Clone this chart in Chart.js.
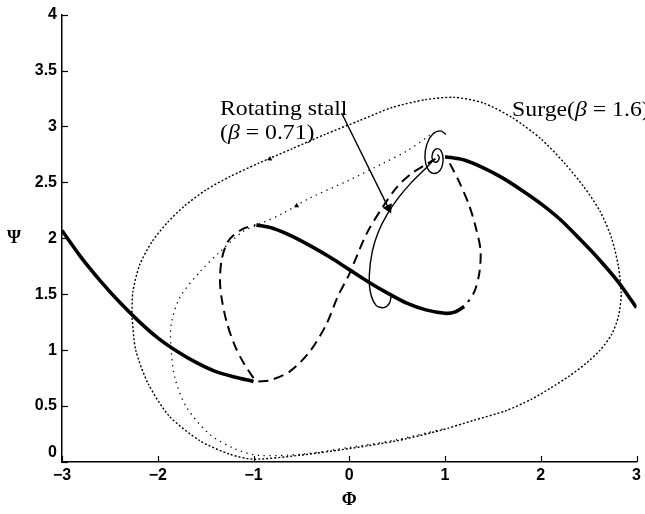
<!DOCTYPE html>
<html><head><meta charset="utf-8">
<script src="https://cdn.jsdelivr.net/npm/chart.js@4/dist/chart.umd.min.js"></script>
<style>html,body{margin:0;padding:0;background:#fff}canvas{display:block}</style>
</head><body>
<canvas id="c" width="645" height="514"></canvas>
<script>
// ---- tick values ----
const xTicks = [-3, -2, -1, 0, 1, 2, 3];
const yTicks = [0, 0.5, 1, 1.5, 2, 2.5, 3, 3.5, 4];

// ---- compressor characteristic: stable branches (thick) ----
const stableLeft = [[-3,2.07],[-2.8,1.83],[-2.6,1.62],[-2.4,1.43],[-2.2,1.26],[-2.0,1.11],[-1.8,0.99],[-1.6,0.89],[-1.4,0.81],[-1.2,0.76],[-1.0,0.72]];
const stableMid = [[-0.97,2.12],[-0.8,2.09],[-0.6,2.02],[-0.4,1.93],[-0.2,1.83],[0,1.72],[0.2,1.61],[0.4,1.51],[0.6,1.42],[0.8,1.36],[1.0,1.33],[1.1,1.34],[1.2,1.39]];
const stableRight = [[1.0,2.73],[1.2,2.70],[1.4,2.63],[1.6,2.54],[1.8,2.43],[2.0,2.31],[2.2,2.17],[2.4,2.0],[2.6,1.82],[2.8,1.62],[3.0,1.38]];

// ---- unstable branches (dashed) ----
const unstableLoop = [[-1.0,0.75],[-1.1,0.88],[-1.2,1.05],[-1.28,1.25],[-1.33,1.45],[-1.35,1.62],[-1.33,1.82],[-1.26,1.98],[-1.12,2.08],[-0.98,2.12]];
const unstableS = [[-0.95,0.72],[-0.83,0.73],[-0.62,0.81],[-0.41,0.99],[-0.24,1.23],[-0.12,1.48],[0.0,1.68],[0.18,2.04],[0.35,2.28],[0.5,2.46],[0.65,2.58],[0.8,2.66],[0.9,2.71]];
const unstableRight = [[1.05,2.67],[1.15,2.5],[1.25,2.3],[1.32,2.1],[1.37,1.9],[1.36,1.7],[1.31,1.53],[1.24,1.43]];

// ---- rotating stall trajectory (beta = 0.71) ----
const stallSolid = [[0.44,1.50],[0.42,1.42],[0.36,1.38],[0.28,1.40],[0.22,1.52],[0.21,1.68],[0.24,1.88],[0.3,2.05],[0.4,2.22],[0.52,2.37],[0.65,2.5],[0.78,2.61],[0.88,2.7]];
const stallSpiral = [[1.01,2.93],[0.95,2.96],[0.87,2.93],[0.81,2.84],[0.79,2.72],[0.82,2.62],[0.88,2.58],[0.95,2.61],[0.98,2.70],[0.96,2.78],[0.91,2.80],[0.87,2.76],[0.87,2.70],[0.91,2.68],[0.94,2.72],[0.92,2.75]];
const stallDotted = [[0.84,2.92],[0.6,2.78],[0.35,2.67],[0.0,2.52],[-0.41,2.36],[-0.7,2.22],[-0.93,2.13],[-1.11,2.06],[-1.35,1.88],[-1.56,1.70],[-1.77,1.47],[-1.86,1.23],[-1.86,1.0],[-1.82,0.75],[-1.70,0.49],[-1.46,0.25],[-1.2,0.12],[-0.95,0.06],[-0.5,0.07],[0.0,0.13],[0.5,0.2],[1.0,0.3]];

// ---- surge cycle (beta = 1.6) ----
const surge = [[-2.27,1.30],[-2.26,1.52],[-2.19,1.76],[-2.06,1.97],[-1.9,2.14],[-1.72,2.29],[-1.5,2.43],[-1.25,2.55],[-0.95,2.67],[-0.6,2.80],[-0.25,2.93],[0.1,3.05],[0.45,3.17],[0.8,3.24],[1.1,3.26],[1.4,3.21],[1.7,3.08],[2.0,2.89],[2.25,2.67],[2.45,2.46],[2.62,2.24],[2.74,2.0],[2.81,1.75],[2.84,1.50],[2.81,1.30],[2.74,1.14],[2.62,1.00],[2.47,0.88],[2.30,0.77],[2.1,0.66],[1.9,0.56],[1.64,0.46],[1.29,0.37],[0.94,0.28],[0.5,0.19],[0.0,0.12],[-0.52,0.06],[-1.0,0.025],[-1.25,0.07],[-1.56,0.19],[-1.88,0.41],[-2.1,0.70],[-2.23,1.0],[-2.27,1.30]];

// ---- arrows ----
const arrowPoints = [[-0.83,2.71],[-0.55,2.29]];
const arrowAngles = [246, 240];
const pointerLine = [[-0.08,3.12],[0.41,2.27]];

// ---- labels ----
const axisTitleX = 'Φ';
const axisTitleY = 'Ψ';
const stallLabel1 = 'Rotating stall';
const stallLabel2 = ['(', 'β', ' = 0.71)'];
const surgeLabel = ['Surge(', 'β', ' = 1.6)'];

const P = a => a.map(p => ({x: p[0], y: p[1]}));
const line = (data, w, dash, extra) => Object.assign({
  data: P(data), showLine: true, fill: false, borderColor: '#000', backgroundColor: '#000',
  borderWidth: w, borderDash: dash, pointRadius: 0, pointHoverRadius: 0, tension: 0.3
}, extra || {});

const fmt = v => (v === 0 ? ['0', ''] : (v < 0 ? '\u2212' + Math.abs(v) : String(v)));
const fmtX = v => (v < 0 ? '\u2212' + Math.abs(v) : String(v));

const serif = '"Liberation Serif", "Times New Roman", serif';
const textPlugin = {
  id: 'texts',
  afterDraw(chart) {
    const {ctx, scales: {x, y}, chartArea: a} = chart;
    ctx.save();
    ctx.fillStyle = '#000';
    // inward tick marks
    ctx.strokeStyle = '#000'; ctx.lineWidth = 1.2;
    xTicks.forEach(v => { const px = Math.round(x.getPixelForValue(v)) + 0.5; ctx.beginPath(); ctx.moveTo(px, a.bottom); ctx.lineTo(px, a.bottom - 6); ctx.stroke(); });
    yTicks.forEach(v => { const py = Math.round(y.getPixelForValue(v)) + 0.5; ctx.beginPath(); ctx.moveTo(a.left, py); ctx.lineTo(a.left + 6, py); ctx.stroke(); });
    // axis titles
    ctx.textAlign = 'center'; ctx.textBaseline = 'middle';
    ctx.font = 'bold 18px ' + serif;
    ctx.fillText(axisTitleX, (a.left + a.right) / 2, 500);
    ctx.fillText(axisTitleY, 14, y.getPixelForValue(2));
    // annotations
    ctx.textAlign = 'left'; ctx.textBaseline = 'alphabetic';
    const rich = (px, py, segs) => {
      ctx.save(); ctx.translate(px, py); ctx.scale(1.08, 1);
      let cx = 0;
      segs.forEach((t, i) => {
        ctx.font = (i === 1 ? 'italic ' : '') + '22px ' + serif;
        ctx.fillText(t, cx, 0); cx += ctx.measureText(t).width;
      });
      ctx.restore();
    };
    rich(x.getPixelForValue(-1.35), y.getPixelForValue(3.10), [stallLabel1]);
    rich(x.getPixelForValue(-1.35), y.getPixelForValue(2.885), stallLabel2);
    rich(x.getPixelForValue(1.70), y.getPixelForValue(3.09), surgeLabel);
    ctx.restore();
  }
};

const tickFont = {family: '"Liberation Sans", Arial, sans-serif', size: 16, weight: 'bold'};

new Chart(document.getElementById('c'), {
  type: 'scatter',
  data: {
    datasets: [
      line(surge, 1.4, [2, 2], {tension: 0.25}),
      line(stallDotted, 1.3, [1.3, 4.5]),
      line(unstableLoop, 2, [10, 6]),
      line(unstableS, 2, [10, 6]),
      line(unstableRight, 2, [10, 6]),
      line(stallSolid, 1.4, []),
      line(stallSpiral, 1.4, [], {tension: 0.4}),
      line(stableLeft, 3.6, []),
      line(stableMid, 3.6, []),
      line(stableRight, 3.6, []),
      line(pointerLine, 1.4, [], {tension: 0, pointRadius: [0, 4.5], pointStyle: 'triangle', rotation: [0, 154]}),
      {data: P(arrowPoints), showLine: false, pointStyle: 'triangle', pointRadius: 2.5, rotation: arrowAngles,
       backgroundColor: '#000', borderColor: '#000', borderWidth: 0.5}
    ]
  },
  options: {
    responsive: false, animation: false, devicePixelRatio: 1,
    layout: {padding: {left: 0, right: 7, top: 12, bottom: 0}},
    plugins: {legend: {display: false}, tooltip: {enabled: false}},
    scales: {
      x: {
        type: 'linear', min: -3, max: 3,
        afterFit(s) { s.height = 52; },
        afterBuildTicks(s) { s.ticks = xTicks.map(v => ({value: v})); },
        grid: {display: false, drawTicks: false},
        border: {display: true, color: '#000', width: 1.5},
        ticks: {callback: fmtX, color: '#000', padding: 4, maxRotation: 0, autoSkip: false, font: tickFont}
      },
      y: {
        type: 'linear', min: 0, max: 4,
        afterFit(s) { s.width = 62; },
        afterBuildTicks(s) { s.ticks = yTicks.map(v => ({value: v})); },
        grid: {display: false, drawTicks: false},
        border: {display: true, color: '#000', width: 1.5},
        ticks: {callback: fmt, color: '#000', padding: 5, autoSkip: false, font: tickFont}
      }
    }
  },
  plugins: [textPlugin]
});
</script>
</body></html>
